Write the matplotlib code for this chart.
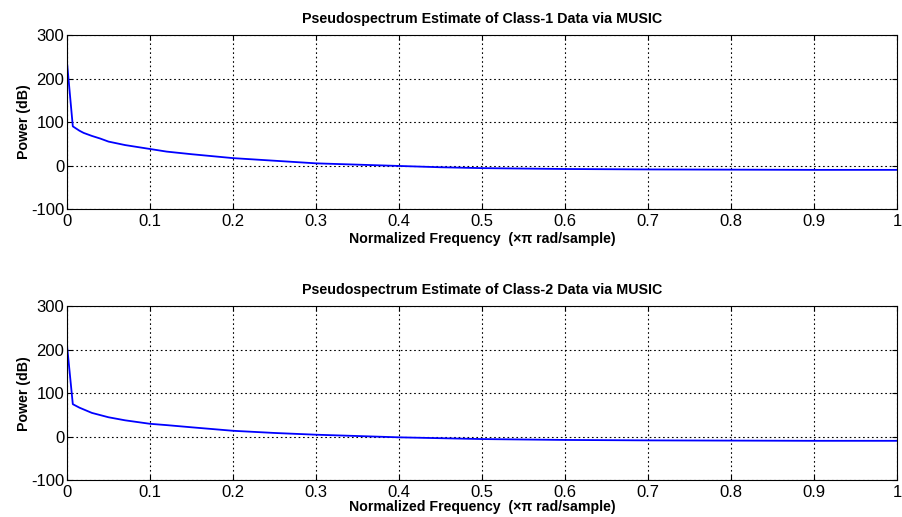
import numpy as np
import matplotlib.pyplot as plt

plt.rcParams['font.family'] = ['Liberation Sans', 'DejaVu Sans']
plt.rcParams['axes.unicode_minus'] = False

freq = [0.0, 0.007, 0.015, 0.02, 0.03, 0.04, 0.05, 0.07, 0.1, 0.12, 0.15,
        0.2, 0.25, 0.3, 0.35, 0.4, 0.45, 0.5, 0.6, 0.7, 0.8, 0.9, 1.0]
class1 = [237, 90, 80, 75, 68, 62, 55, 47, 38, 32, 26,
          17, 11, 5, 2, -1, -4, -6, -8, -9, -9.5, -10, -10]
class2 = [210, 75, 67, 63, 55, 50, 45, 38, 30, 27, 22,
          14, 9, 5, 2, -1, -3, -5, -7, -8, -8.5, -9, -9]

titles = ['Pseudospectrum Estimate of Class-1 Data via MUSIC',
          'Pseudospectrum Estimate of Class-2 Data via MUSIC']
xticks = np.arange(0, 1.01, 0.1)
xticklabels = ['0', '0.1', '0.2', '0.3', '0.4', '0.5', '0.6', '0.7', '0.8', '0.9', '1']
yticks = [-100, 0, 100, 200, 300]

fig = plt.figure(figsize=(9.03, 5.17), dpi=100)
ax1 = fig.add_axes([0.0742, 0.5957, 0.9192, 0.3366])
ax2 = fig.add_axes([0.0742, 0.0706, 0.9192, 0.3374])

for ax, y, t, lp in zip([ax1, ax2], [class1, class2], titles, [2, -0.5]):
    ax.plot(freq, y, color='#0000ff', lw=1.3)
    ax.set_xlim(0, 1)
    ax.set_ylim(-100, 300)
    ax.set_xticks(xticks)
    ax.set_xticklabels(xticklabels)
    ax.set_yticks(yticks)
    ax.grid(True, color='black', linestyle=(0, (1.5, 2.5)), lw=0.8)
    ax.tick_params(direction='in', top=True, right=True, labelsize=12, pad=2)
    ax.tick_params(axis='x', pad=3.5)
    ax.set_title(t, fontsize=10.3, fontweight='bold', pad=9)
    ax.set_xlabel('Normalized Frequency  (\u00d7\u03c0 rad/sample)',
                  fontsize=10.2, fontweight='bold', labelpad=lp)
    ax.set_ylabel('Power (dB)', fontsize=10.2, fontweight='bold', labelpad=0)
    for s in ax.spines.values():
        s.set_linewidth(0.8)

fig.savefig('out.png', dpi=100)
